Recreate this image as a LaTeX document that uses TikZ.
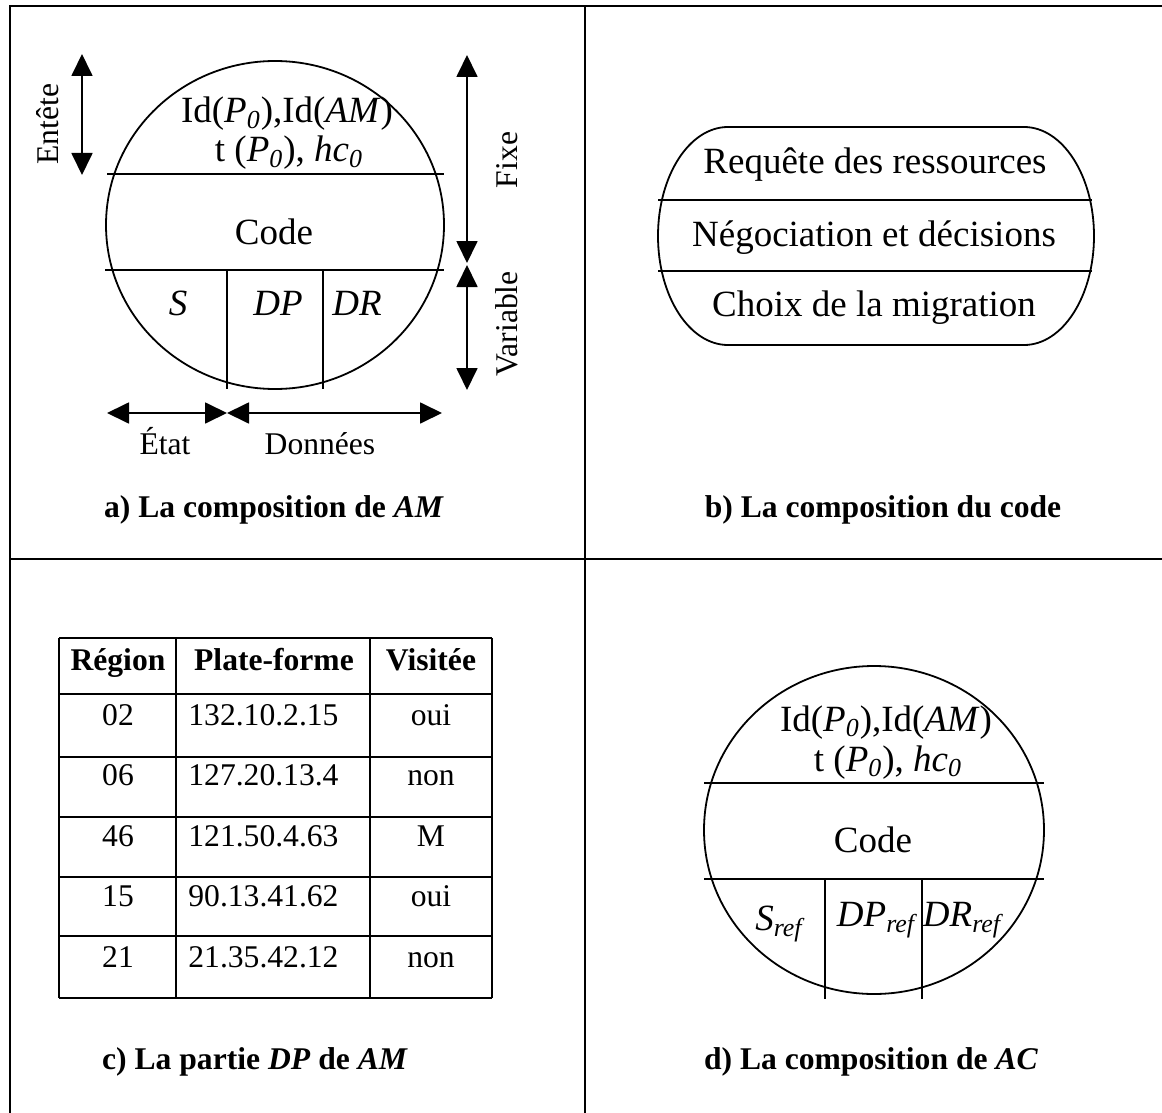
\documentclass[tikz,border=0pt]{standalone}
\usepackage{fontspec}
\setmainfont{Liberation Serif}
\usepackage{tikz}
\usetikzlibrary{arrows.meta,positioning}

\tikzset{
  big/.style={inner sep=0pt, text height=12.5pt, text depth=0.5pt, font=\fontsize{18.5}{22}\selectfont},
  small/.style={inner sep=0pt, text height=11.5pt, text depth=0.5pt, font=\fontsize{15.8}{19}\selectfont},
  captxt/.style={small, font=\fontsize{15.8}{19}\selectfont\bfseries},
  dblarrow/.style={line width=0.9pt, {Triangle[length=11pt,width=10.5pt]}-{Triangle[length=11pt,width=10.5pt]}},
  part/.style={line width=0.9pt},
}

\begin{document}
\begin{tikzpicture}[x=0.5pt, y=-0.5pt]
\useasboundingbox (0,0) rectangle (1162,1113);
% frame of the four panels
\draw[line width=1.2pt] (10,1113) -- (10,6) -- (1162,6);
\draw[line width=1.2pt] (585,6) -- (585,1113);
\draw[line width=1.2pt] (10,559) -- (1162,559);

% a) composition de AM
\draw[part] (275,225) ellipse [x radius=84.5pt, y radius=82pt];
\draw[part] (107,174) -- (444,174);
\draw[part] (105,270) -- (444,270);
\draw[part] (227,270) -- (227,389);
\draw[part] (323,270) -- (323,389);
\node[big] (idA) at (287,111) {Id(\textit{P\textsubscript{0}}),Id(\textit{AM})};
\node[big] (tA) at (289,150) {t (\textit{P\textsubscript{0}}), \textit{hc\textsubscript{0}}};
\node[big] (codeA) at (274,232) {Code};
\node[big] (sA) at (178,303) {\textit{S}};
\node[big] (dpA) at (278,303) {\textit{DP}};
\node[big] (drA) at (357,303) {\textit{DR}};
\coordinate (entTop) at (82,54);
\coordinate (entBot) at (82,175);
\draw[dblarrow] (entTop) -- (entBot);
\node[small, rotate=90] (entete) at (47,124) {Entête};
\coordinate (fixTop) at (467,55);
\coordinate (fixBot) at (467,263);
\coordinate (varTop) at (467,265);
\coordinate (varBot) at (467,390);
\draw[dblarrow] (fixTop) -- (fixBot);
\draw[dblarrow] (varTop) -- (varBot);
\node[small, rotate=90] (fixe) at (506,160) {Fixe};
\node[small, rotate=90] (variable) at (506,324) {Variable};
\coordinate (etaL) at (107,413);
\coordinate (etaR) at (227,413);
\coordinate (donR) at (442,413);
\draw[dblarrow] (etaL) -- (etaR);
\draw[dblarrow] (etaR) -- (donR);
\node[small] (etat) at (165,443) {État};
\node[small] (donnees) at (320,443) {Données};
\node[captxt] (capA) at (274,506) {a) La composition de \textit{AM}};

% b) composition du code
\draw[part] (728,127) -- (1024,127)
  arc[start angle=90, end angle=-90, x radius=35pt, y radius=54.5pt]
  -- (728,345)
  arc[start angle=270, end angle=90, x radius=35pt, y radius=54.5pt] -- cycle;
\draw[part] (658,200) -- (1092,200);
\draw[part] (658,271) -- (1092,271);
\node[big] (requete) at (875,162) {Requête des ressources};
\node[big] (nego) at (874,234) {Négociation et décisions};
\node[big] (choix) at (874,304) {Choix de la migration};
\node[captxt] (capB) at (883,506) {b) La composition du code};

% c) la partie DP de AM
\foreach \yy in {638,694,757,817,877,936,998}
  \draw[part] (59,\yy) -- (492,\yy);
\foreach \xx in {59,176,370,492}
  \draw[part] (\xx,638) -- (\xx,998);
\node[captxt] (hRegion) at (118,659) {Région};
\node[captxt] (hPlate) at (274,659) {Plate-forme};
\node[captxt] (hVisit) at (431,659) {Visitée};
\foreach \reg/\ip/\vis [count=\i] in {02/132.10.2.15/oui, 06/127.20.13.4/non,
    46/121.50.4.63/M, 15/90.13.41.62/oui, 21/21.35.42.12/non}
{
  \pgfmathsetmacro{\yrow}{714+60.5*(\i-1)}
  \node[small] (reg\i) at (118,\yrow) {\reg};
  \node[small, anchor=west] (ip\i) at (188,\yrow) {\ip};
  \node[small] (vis\i) at (431,\yrow) {\vis};
}
\node[captxt] (capC) at (255,1058) {c) La partie \textit{DP} de \textit{AM}};

% d) composition de AC
\draw[part] (874,830) ellipse [x radius=85pt, y radius=82pt];
\draw[part] (704,783) -- (1044,783);
\draw[part] (704,879) -- (1044,879);
\draw[part] (825,879) -- (825,999);
\draw[part] (922,879) -- (922,999);
\node[big] (idD) at (886,719) {Id(\textit{P\textsubscript{0}}),Id(\textit{AM})};
\node[big] (tD) at (888,759) {t (\textit{P\textsubscript{0}}), \textit{hc\textsubscript{0}}};
\node[big] (codeD) at (873,840) {Code};
\node[big] (sD) at (779,918) {\textit{S\textsubscript{ref}}};
\node[big] (dpD) at (876,914) {\textit{DP\textsubscript{ref}}};
\node[big] (drD) at (962,914) {\textit{DR\textsubscript{ref}}};
\node[captxt] (capD) at (871,1058) {d) La composition de \textit{AC}};
\end{tikzpicture}
\end{document}
